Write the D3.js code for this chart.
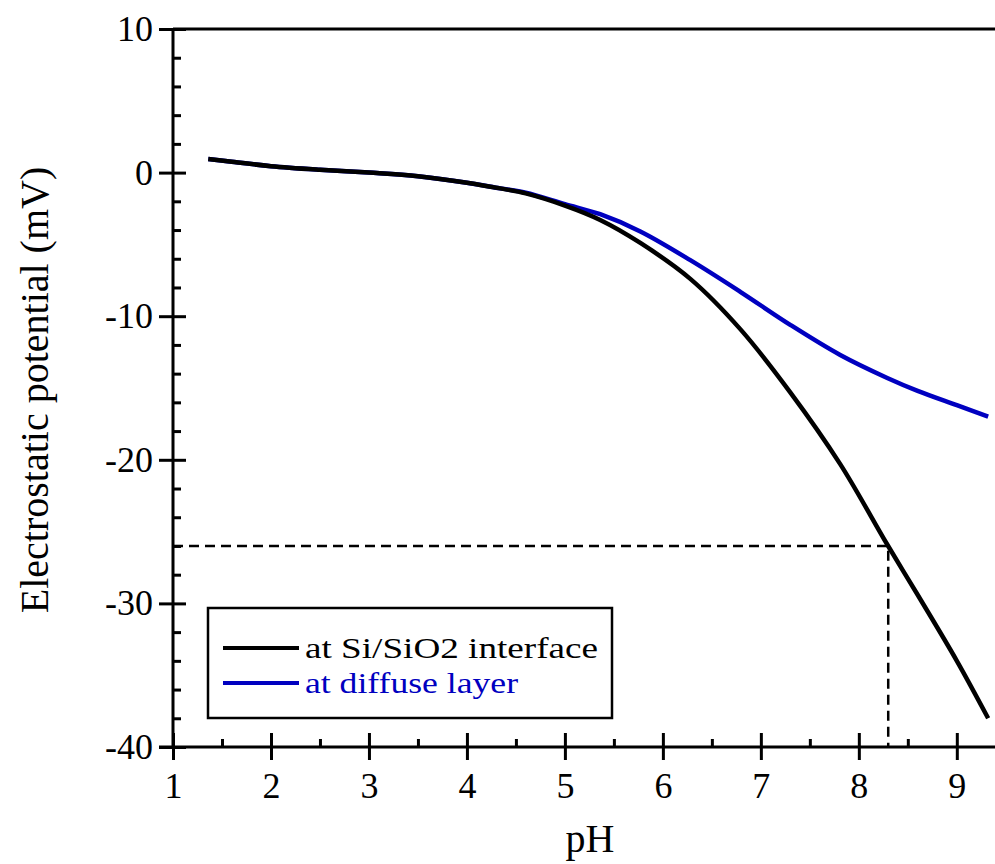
<!DOCTYPE html>
<html>
<head>
<meta charset="utf-8">
<script src="https://cdn.jsdelivr.net/npm/d3@7"></script>
<style>
  body { margin: 0; background: #fff; }
  svg text { font-family: "Liberation Serif", "Times New Roman", serif; }
  .axis path, .axis line { stroke: #000; stroke-width: 3; }
  .axis text { font-size: 36px; fill: #000; }
</style>
</head>
<body>
<div id="container"></div>
<script>
const w = 995;
const h = 864;

// values
const pH = [1.36, 1.6, 2, 2.5, 3, 3.5, 4, 4.34, 4.6, 5, 5.36, 5.77, 6.28, 6.79, 7.3, 7.81, 8.29, 8.6, 9, 9.32];
const interfacePot = [0.95, 0.75, 0.45, 0.2, 0.0, -0.25, -0.7, -1.1, -1.45, -2.3, -3.3, -4.9, -7.4, -10.9, -15.3, -20.3, -25.9, -29.4, -34.0, -38.0];
const diffusePot = [0.95, 0.75, 0.45, 0.2, 0.0, -0.25, -0.7, -1.1, -1.4, -2.2, -2.9, -4.1, -6.1, -8.3, -10.6, -12.7, -14.3, -15.2, -16.2, -17.0];
const xTicks = [1, 2, 3, 4, 5, 6, 7, 8, 9];
const yTicks = [10, 0, -10, -20, -30, -40];
const marker = { pH: 8.3, value: -26 };
const seriesNames = ["at Si/SiO2 interface", "at diffuse layer"];
const seriesColors = ["#000000", "#0000c0"];
const legendTextWidths = [293, 213];

const svg = d3.select("#container")
  .append("svg")
  .attr("width", w)
  .attr("height", h);

const xScale = d3.scaleLinear().domain([1, 9.4]).range([173, 996]);
const yScale = d3.scaleLinear().domain([-40, 10]).range([747, 29]);
const fmt = d => String(d);

// dashed guide lines
svg.append("path")
  .attr("d", d3.line()([
    [xScale(1), yScale(marker.value)],
    [xScale(marker.pH), yScale(marker.value)],
    [xScale(marker.pH), yScale(-40)]
  ]))
  .attr("fill", "none")
  .attr("stroke", "#000")
  .attr("stroke-width", 2.5)
  .attr("stroke-dasharray", "10,6");

// top frame line
svg.append("line")
  .attr("x1", xScale(1)).attr("x2", w)
  .attr("y1", yScale(10)).attr("y2", yScale(10))
  .attr("stroke", "#000").attr("stroke-width", 3);

// y axis: outward part with labels, inward half of the ticks, minor ticks
svg.append("g").attr("class", "axis")
  .attr("transform", "translate(" + xScale(1) + ",0)")
  .call(d3.axisLeft(yScale).tickValues(yTicks).tickSize(14).tickPadding(6).tickFormat(fmt))
  .call(g => g.select(".domain").remove());
svg.append("g").attr("class", "axis")
  .attr("transform", "translate(" + xScale(1) + ",0)")
  .call(d3.axisRight(yScale).tickValues(yTicks).tickSize(13).tickFormat(""))
  .call(g => g.select(".domain").remove());
svg.append("g").attr("class", "axis")
  .attr("transform", "translate(" + xScale(1) + ",0)")
  .call(d3.axisRight(yScale).tickValues(d3.range(-38, 10, 2).filter(v => v % 10 !== 0)).tickSize(8).tickFormat(""))
  .call(g => g.select(".domain").remove());
svg.append("line")
  .attr("x1", xScale(1)).attr("x2", xScale(1))
  .attr("y1", yScale(10)).attr("y2", yScale(-40))
  .attr("stroke", "#000").attr("stroke-width", 3);

// x axis
svg.append("g").attr("class", "axis")
  .attr("transform", "translate(0," + yScale(-40) + ")")
  .call(d3.axisBottom(xScale).tickValues(xTicks).tickSize(13).tickPadding(12).tickFormat(fmt))
  .call(g => g.select(".domain").remove());
svg.append("g").attr("class", "axis")
  .attr("transform", "translate(0," + yScale(-40) + ")")
  .call(d3.axisTop(xScale).tickValues(xTicks).tickSize(14).tickFormat(""))
  .call(g => g.select(".domain").remove());
svg.append("g").attr("class", "axis")
  .attr("transform", "translate(0," + yScale(-40) + ")")
  .call(d3.axisTop(xScale).tickValues(d3.range(1.5, 9.5, 1)).tickSize(8).tickFormat(""))
  .call(g => g.select(".domain").remove());
svg.append("line")
  .attr("x1", xScale(1) - 14).attr("x2", w)
  .attr("y1", yScale(-40)).attr("y2", yScale(-40))
  .attr("stroke", "#000").attr("stroke-width", 3);

// curves
const line = d3.line()
  .x(d => xScale(d[0]))
  .y(d => yScale(d[1]))
  .curve(d3.curveCatmullRom.alpha(0.5));

[diffusePot, interfacePot].forEach((vals, k) => {
  const idx = k === 0 ? 1 : 0;
  svg.append("path")
    .datum(pH.map((p, i) => [p, vals[i]]))
    .attr("d", line)
    .attr("fill", "none")
    .attr("stroke", seriesColors[idx])
    .attr("stroke-width", 4.5);
});

// axis titles
svg.append("text")
  .attr("x", 590)
  .attr("y", 852)
  .attr("text-anchor", "middle")
  .style("font-size", "40px")
  .text("pH");

svg.append("text")
  .attr("transform", "translate(48,390) rotate(-90)")
  .attr("text-anchor", "middle")
  .style("font-size", "40px")
  .text("Electrostatic potential (mV)");

// legend
const legend = svg.append("g");
legend.append("rect")
  .attr("x", 208).attr("y", 608)
  .attr("width", 404).attr("height", 110)
  .attr("fill", "#fff")
  .attr("stroke", "#000")
  .attr("stroke-width", 2.5);
seriesNames.forEach((name, i) => {
  const yy = 648 + i * 35;
  legend.append("line")
    .attr("x1", 223).attr("x2", 299)
    .attr("y1", yy).attr("y2", yy)
    .attr("stroke", seriesColors[i])
    .attr("stroke-width", 4);
  legend.append("text")
    .attr("x", 305)
    .attr("y", yy + 10)
    .attr("fill", seriesColors[i])
    .attr("textLength", legendTextWidths[i])
    .attr("lengthAdjust", "spacingAndGlyphs")
    .style("font-size", "30px")
    .text(name);
});
</script>
</body>
</html>
